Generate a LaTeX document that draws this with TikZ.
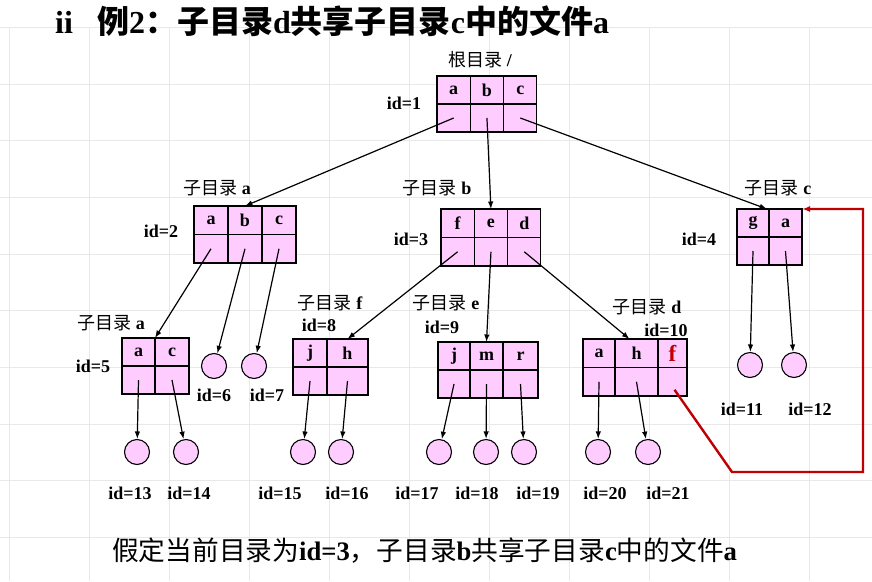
\documentclass[tikz,border=0pt]{standalone}
\usepackage{fontspec}
\setmainfont{Liberation Serif}
\newfontfamily\cjk{Noto Sans CJK SC}
\usetikzlibrary{arrows.meta}
\definecolor{dirpink}{HTML}{FFCCFF}
\definecolor{sharered}{HTML}{C00000}
\definecolor{gridgray}{HTML}{E8E8E8}

% label of a sub-directory: CJK word plus bold Latin name
\newcommand\subdirname[1]{{\cjk\mdseries 子目录}\ #1}
\newcommand\redf{\textcolor{sharered}{\fontsize{23}{23}\selectfont f}}

% directory box: name, left x, top y, row height, list of letter/width
\newcommand\dirbox[5]{%
  \node[inner sep=0pt, outer sep=0pt, minimum size=0pt] (#1-0t) at (#2,#3) {};
  \foreach \celltxt/\cellw [count=\i, remember=\i as \j (initially 0)] in {#5} {%
    \node[cell, minimum width=\cellw, minimum height=#4, anchor=north west]
      (#1-\i t) at (#1-\j t.north east) {\celltxt};
    \node[cell, minimum width=\cellw, minimum height=#4, anchor=north]
      (#1-\i b) at (#1-\i t.south) {};
  }%
}

\tikzset{
  cell/.style={draw=black, fill=dirpink, line width=1.1pt, inner sep=0pt,
    outer sep=0pt, font=\bfseries\fontsize{18}{18}\selectfont},
  leaf/.style={circle, draw=black, fill=dirpink, line width=1.1pt,
    minimum size=25pt, inner sep=0pt},
  link/.style={line width=1.2pt, -{Latex[length=7.5pt,width=5.5pt]}},
  share/.style={draw=sharered, line width=2.4pt, line join=miter,
    -{Latex[length=8pt,width=6pt]}},
  idlabel/.style={inner sep=0pt, font=\bfseries\fontsize{18}{18}\selectfont},
  dirlabel/.style={inner sep=0pt, font=\bfseries\fontsize{18}{18}\selectfont},
  gridline/.style={draw=gridgray, line width=1pt},
  bigtext/.style={anchor=base west, inner sep=0pt}
}

\begin{document}
\begin{tikzpicture}[x=1pt,y=-1pt]
  \fill[white] (0,0) rectangle (872,581);
  \useasboundingbox (0,0) rectangle (872,581);

  % background grid
  \foreach \gx in {9,89,...,809}
    \draw[gridline] (\gx,27.3) -- (\gx,581);
  \foreach \k in {0,...,9}
    \draw[gridline] (0,{27.3+56.7*\k}) -- (872,{27.3+56.7*\k});

  % heading
  \node[bigtext, font=\bfseries\fontsize{32}{32}\selectfont] (tii) at (55,33) {ii};
  \node[bigtext, font=\bfseries\fontsize{32}{32}\selectfont] (title) at (97,33)
    {{\cjk 例}2{\cjk ：子目录}d{\cjk 共享子目录}c{\cjk 中的文件}a};

  % directory boxes
  \dirbox{R}{437}{76}{28}{a/33.3,b/33.3,c/33.3}
  \dirbox{A}{194}{206}{28.5}{a/34,b/34,c/34}
  \dirbox{B}{441}{209}{28.5}{f/33.3,e/33.3,d/33.3}
  \dirbox{C}{737}{209}{28}{g/32,a/33}
  \dirbox{A5}{122}{338}{28}{a/33,c/34}
  \dirbox{F}{293}{339}{28}{j/34,h/41}
  \dirbox{E}{438}{342}{28}{j/32,m/33,r/35}
  \dirbox{D}{583}{339}{28.5}{a/32,h/43,\redf/29}

  % file nodes
  \node[leaf] (n6) at (214,366) {};
  \node[leaf] (n7) at (254,366) {};
  \node[leaf] (n11) at (750,365) {};
  \node[leaf] (n12) at (794,365) {};
  \node[leaf] (n13) at (137,452) {};
  \node[leaf] (n14) at (186,452) {};
  \node[leaf] (n15) at (303,452) {};
  \node[leaf] (n16) at (341,452) {};
  \node[leaf] (n17) at (439,452) {};
  \node[leaf] (n18) at (486,452) {};
  \node[leaf] (n19) at (524,452) {};
  \node[leaf] (n20) at (598,452) {};
  \node[leaf] (n21) at (648,452) {};

  % directory names and ids
  \node[dirlabel] (lR) at (480,60) {{\cjk\mdseries 根目录}\ /};
  \node[idlabel] (iR) at (404,103) {id=1};
  \node[dirlabel] (lA) at (217,188) {\subdirname{a}};
  \node[idlabel] (iA) at (161,231) {id=2};
  \node[dirlabel] (lB) at (437,188) {\subdirname{b}};
  \node[idlabel] (iB) at (411,239) {id=3};
  \node[dirlabel] (lC) at (778,188) {\subdirname{c}};
  \node[idlabel] (iC) at (699,239) {id=4};
  \node[dirlabel] (lA5) at (111,323) {\subdirname{a}};
  \node[idlabel] (iA5) at (93,366) {id=5};
  \node[dirlabel] (lF) at (330,303) {\subdirname{f}};
  \node[idlabel] (iF) at (319,325) {id=8};
  \node[dirlabel] (lE) at (446,303) {\subdirname{e}};
  \node[idlabel] (iE) at (442,327) {id=9};
  \node[dirlabel] (lD) at (647,307) {\subdirname{d}};
  \node[idlabel] (iD) at (666,330) {id=10};

  \node[idlabel] (i6) at (214,395) {id=6};
  \node[idlabel] (i7) at (267,395) {id=7};
  \node[idlabel] (i11) at (742,409) {id=11};
  \node[idlabel] (i12) at (810,409) {id=12};
  \node[idlabel] (i13) at (130,493) {id=13};
  \node[idlabel] (i14) at (189,493) {id=14};
  \node[idlabel] (i15) at (280,493) {id=15};
  \node[idlabel] (i16) at (347,493) {id=16};
  \node[idlabel] (i17) at (417,493) {id=17};
  \node[idlabel] (i18) at (477,493) {id=18};
  \node[idlabel] (i19) at (538,493) {id=19};
  \node[idlabel] (i20) at (605,493) {id=20};
  \node[idlabel] (i21) at (668,493) {id=21};

  % directory links
  \draw[link] (R-1b.center) -- (A-2t.north);
  \draw[link] (R-2b.center) -- (B-2t.north);
  \draw[link] (R-3b.center) -- ([xshift=-2pt]C-1t.north east);
  \draw[link] (A-1b.center) -- (A5-1t.north east);
  \draw[link] (A-2b.center) -- (n6);
  \draw[link] (A-3b.center) -- (n7);
  \draw[link] (B-1b.center) -- (F-2t.north);
  \draw[link] (B-2b.center) -- (E-2t.north);
  \draw[link] (B-3b.center) -- ([xshift=-7pt]D-2t.north);
  \draw[link] (C-1b.center) -- (n11);
  \draw[link] (C-2b.center) -- (n12);
  \draw[link] (A5-1b.center) -- (n13);
  \draw[link] (A5-2b.center) -- (n14);
  \draw[link] (F-1b.center) -- (n15);
  \draw[link] (F-2b.center) -- (n16);
  \draw[link] (E-1b.center) -- (n17);
  \draw[link] (E-2b.center) -- (n18);
  \draw[link] (E-3b.center) -- (n19);
  \draw[link] (D-1b.center) -- (n20);
  \draw[link] (D-2b.center) -- (n21);

  % shared entry f of d pointing at directory c
  \coordinate (s1) at (732,472);
  \coordinate (s2) at (863,472);
  \coordinate (s3) at (863,209);
  \draw[share] ([shift={(2pt,-8pt)}]D-3b.center) -- (s1) -- (s2) -- (s3) -- (C-2t.north east);

  % closing note
  \node[bigtext, font=\bfseries\fontsize{26.7}{26.7}\selectfont] (note) at (112,560)
    {{\cjk\mdseries 假定当前目录为}id=3{\cjk\mdseries ，子目录}b{\cjk\mdseries 共享子目录}c{\cjk\mdseries 中的文件}a};
\end{tikzpicture}
\end{document}
